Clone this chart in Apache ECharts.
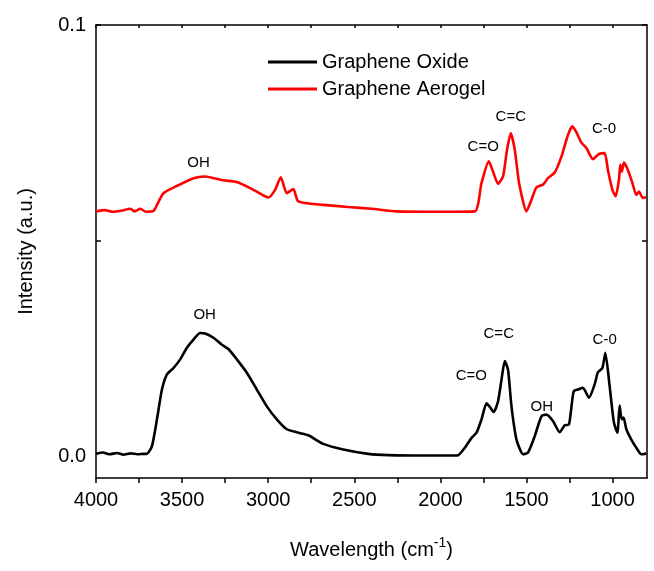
<!DOCTYPE html>
<html>
<head>
<meta charset="utf-8">
<script src="https://cdn.jsdelivr.net/npm/echarts@6/dist/echarts.min.js"></script>
<style>
  html, body { margin: 0; padding: 0; background: #fff; }
  #chart { width: 654px; height: 571px; }
</style>
</head>
<body>
<div id="chart"></div>
<script>
// Graphene Oxide (black), wavenumber -> intensity
var goX = [4000, 3960, 3920, 3880, 3840, 3800, 3760, 3720, 3705, 3675, 3646, 3617, 3588, 3550, 3511, 3472, 3434, 3395,
  3366, 3318, 3269, 3231, 3182, 3124, 3066, 3008, 2950, 2892, 2825, 2767, 2680, 2564, 2419, 2300, 2100, 1950, 1897, 1858,
  1819, 1790, 1761, 1732, 1713, 1690, 1665, 1645, 1626, 1607, 1587, 1558, 1520, 1491, 1452, 1413, 1384, 1346, 1307, 1278,
  1253, 1226, 1201, 1172, 1137, 1104, 1085, 1059, 1042, 1017, 992, 972, 959, 947, 936, 920, 891, 862, 833, 804];
var goY = [0.0006, 0.0009, 0.0005, 0.0008, 0.0004, 0.0007, 0.0005, 0.0006, 0.0006, 0.0024, 0.0086, 0.0155, 0.019, 0.0205, 0.0225, 0.0252, 0.0271, 0.0286,
  0.0285, 0.0275, 0.0259, 0.0249, 0.0225, 0.0194, 0.0155, 0.0116, 0.0086, 0.0063, 0.0055, 0.0049, 0.0029, 0.0016, 0.0006, 0.0003, 0.0002, 0.0002, 0.0003, 0.002,
  0.0043, 0.0055, 0.0086, 0.0123, 0.0115, 0.0103, 0.0128, 0.0178, 0.0221, 0.0201, 0.0116, 0.0039, 0.0005, 0.0009, 0.0047, 0.0093, 0.0097, 0.0082, 0.0056, 0.0072,
  0.0074, 0.0151, 0.0155, 0.0159, 0.0136, 0.0167, 0.0195, 0.0205, 0.024, 0.0163, 0.0078, 0.0055, 0.0118, 0.0086, 0.009, 0.0063, 0.0039, 0.002, 0.0005, 0.0007];

// Graphene Aerogel (red), plotted with its offset
var gaX = [4000, 3950, 3900, 3850, 3801, 3775, 3743, 3710, 3666, 3646, 3608, 3530, 3434, 3366, 3260, 3182, 3086, 2999, 2960, 2927,
  2892, 2854, 2825, 2680, 2535, 2400, 2254, 2000, 1800, 1761, 1719, 1694, 1665, 1636, 1613, 1591, 1568, 1543, 1500, 1471,
  1442, 1404, 1375, 1336, 1297, 1259, 1233, 1207, 1182, 1152, 1114, 1079, 1046, 1027, 1001, 982, 963, 955, 946, 934,
  911, 885, 862, 847, 824, 805];
var gaY = [0.0568, 0.0571, 0.0567, 0.0570, 0.0574, 0.0568, 0.0574, 0.0567, 0.0569, 0.0583, 0.061, 0.0627, 0.0645, 0.0649, 0.064, 0.0636, 0.0618, 0.06, 0.0618, 0.0647,
  0.061, 0.062, 0.0591, 0.0583, 0.0578, 0.0574, 0.0568, 0.0567, 0.0568, 0.0634, 0.0684, 0.066, 0.0632, 0.0649, 0.0711, 0.0749, 0.0711, 0.0634, 0.0568, 0.0595,
  0.0624, 0.063, 0.0645, 0.0658, 0.0695, 0.0745, 0.0765, 0.0749, 0.0728, 0.0715, 0.0689, 0.0701, 0.0703, 0.0664, 0.0618, 0.0603, 0.0641, 0.0676, 0.066, 0.0681,
  0.0664, 0.0634, 0.0606, 0.0614, 0.0599, 0.0601];

// peak labels
var annText = ['OH', 'C=O', 'C=C', 'C-0', 'OH', 'C=O', 'C=C', 'OH', 'C-0'];
var annX = [3404, 1751, 1591, 1049, 3369, 1820, 1661, 1411, 1046];
var annY = [0.0681, 0.0718, 0.0787, 0.0759, 0.0329, 0.01875, 0.0285, 0.0116, 0.0271];

var xLabels = [1000, 1500, 2000, 2500, 3000, 3500, 4000];
var xTicks = [1000, 1250, 1500, 1750, 2000, 2250, 2500, 2750, 3000, 3250, 3500, 3750, 4000];
var yLabels = [0, 0.1];
var yTicks = [0.05, 0.1];

function pairs(xs, ys) {
  return xs.map(function (x, i) { return [x, ys[i]]; });
}

var font = '"Liberation Sans", Arial, sans-serif';
var chart = echarts.init(document.getElementById('chart'));

var axisBase = {
  type: 'value', min: 800, max: 4000, inverse: true,
  splitLine: { show: false },
  axisLine: { show: true, onZero: false, lineStyle: { color: '#000', width: 1.5 } }
};

chart.setOption({
  animation: false,
  textStyle: { fontFamily: font },
  grid: { left: 96, right: 7, top: 25, bottom: 93 },
  legend: {
    orient: 'vertical', left: 263, top: 47,
    icon: 'rect', itemWidth: 49, itemHeight: 3, itemGap: 7,
    textStyle: { fontSize: 20, color: '#000', fontFamily: font },
    data: ['Graphene Oxide', 'Graphene Aerogel']
  },
  xAxis: [
    Object.assign({}, axisBase, {
      position: 'bottom',
      name: 'Wavelength (cm{sup|-1})',
      nameLocation: 'middle', nameGap: 58,
      nameTextStyle: {
        fontSize: 20, color: '#000', fontFamily: font,
        rich: { sup: { fontSize: 14, verticalAlign: 'top', padding: [0, 0, 14, 0], color: '#000' } }
      },
      axisTick: { show: true, inside: false, length: 5, customValues: xTicks, lineStyle: { color: '#000', width: 1.5 } },
      axisLabel: {
        customValues: xLabels, fontSize: 20, color: '#000', margin: 12, fontFamily: font,
        formatter: function (v) { return String(v); }
      }
    }),
    Object.assign({}, axisBase, {
      position: 'top',
      axisTick: { show: true, inside: true, length: 3, customValues: xTicks, lineStyle: { color: '#000', width: 1.5 } },
      axisLabel: { show: false }
    })
  ],
  yAxis: [
    {
      type: 'value', min: -0.005, max: 0.1, position: 'left',
      name: 'Intensity (a.u.)', nameLocation: 'middle', nameGap: 60,
      nameTextStyle: { fontSize: 20, color: '#000', fontFamily: font },
      splitLine: { show: false },
      axisLine: { show: true, onZero: false, lineStyle: { color: '#000', width: 1.5 } },
      axisTick: { show: true, inside: true, length: 5, customValues: yTicks, lineStyle: { color: '#000', width: 1.5 } },
      axisLabel: {
        customValues: yLabels, fontSize: 20, color: '#000', margin: 10, fontFamily: font,
        formatter: function (v) { return v.toFixed(1); }
      }
    },
    {
      type: 'value', min: -0.005, max: 0.1, position: 'right',
      splitLine: { show: false },
      axisLine: { show: true, onZero: false, lineStyle: { color: '#000', width: 1.5 } },
      axisTick: { show: true, inside: true, length: 5, customValues: yTicks, lineStyle: { color: '#000', width: 1.5 } },
      axisLabel: { show: false }
    }
  ],
  series: [
    {
      name: 'Graphene Oxide', type: 'line', showSymbol: false, symbol: 'none', smooth: 0.2,
      itemStyle: { color: '#000' },
      lineStyle: { color: '#000', width: 2.6 },
      data: pairs(goX, goY)
    },
    {
      name: 'Graphene Aerogel', type: 'line', showSymbol: false, symbol: 'none', smooth: 0.2,
      itemStyle: { color: '#ff0000' },
      lineStyle: { color: '#ff0000', width: 2.6 },
      data: pairs(gaX, gaY)
    },
    {
      name: 'labels', type: 'scatter', symbolSize: 0, silent: true,
      itemStyle: { opacity: 1 },
      label: {
        show: true, position: 'inside', color: '#000', opacity: 1, fontSize: 15, fontFamily: font,
        formatter: function (p) { return annText[p.dataIndex]; }
      },
      data: pairs(annX, annY)
    }
  ]
});
</script>
</body>
</html>
